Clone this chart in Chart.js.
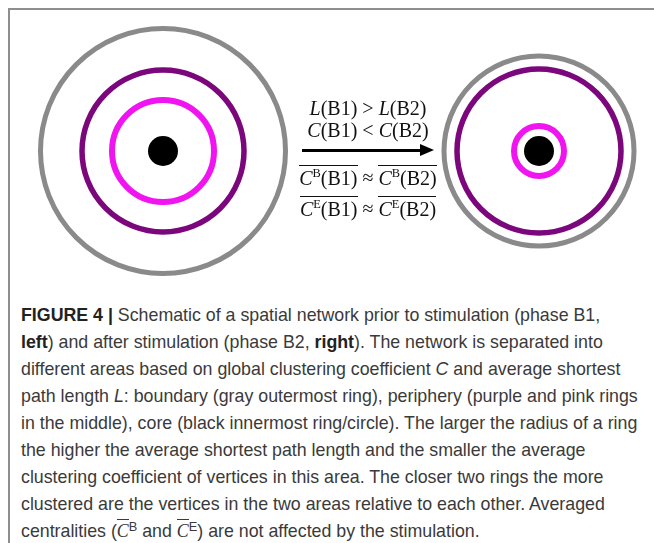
<!DOCTYPE html>
<html>
<head>
<meta charset="utf-8">
<script src="https://cdn.jsdelivr.net/npm/chart.js@4"></script>
<style>
  html, body { margin: 0; padding: 0; background: #fff; }
  body { width: 654px; height: 543px; position: relative; overflow: hidden; }
  #frameTop { position: absolute; left: 8px; top: 8px; width: 646px; height: 2px; background: #8e8e8e; }
  #frameLeft { position: absolute; left: 8px; top: 8px; width: 2px; height: 535px; background: #8e8e8e; }
  #chartWrap { position: absolute; left: 0; top: 0; width: 654px; height: 302px; }
  .eq { position: absolute; left: 268px; width: 200px; text-align: center;
        font-family: "Liberation Serif", "Times New Roman", serif; font-size: 20px; line-height: 20px; color: #111; white-space: nowrap; }
  .eq i { font-style: italic; }
  .eq sup { font-size: 0.62em; vertical-align: 0; position: relative; top: -0.55em; }
  .ov { border-top: 1.4px solid #111; padding-top: 0.5px; }
  #arrowLine { position: absolute; left: 302px; top: 149px; width: 122px; height: 3px; background: #000; }
  #arrowHead { position: absolute; left: 420px; top: 144px; width: 0; height: 0;
        border-top: 6.5px solid transparent; border-bottom: 6.5px solid transparent; border-left: 14px solid #000; }
  #caption { position: absolute; left: 21px; top: 302px; width: 640px;
        font-family: "Liberation Sans", Arial, sans-serif; font-size: 17.8px; line-height: 27px; color: #3a3a3a; white-space: nowrap; }
  #caption b { color: #222; }
  #caption .ci { font-family: "Liberation Serif", serif; font-style: italic; }
  #caption sup { font-size: 0.72em; vertical-align: 0; position: relative; top: -0.5em; }
  #caption .ov2 { border-top: 1.2px solid #3a3a3a; padding-top: 1px; }
</style>
</head>
<body>
<div id="frameTop"></div>
<div id="frameLeft"></div>
<div id="chartWrap"><canvas id="c" width="654" height="302"></canvas></div>

<div class="eq" style="top:98px"><i>L</i>(B1) &gt; <i>L</i>(B2)</div>
<div class="eq" style="top:120px"><i>C</i>(B1) &lt; <i>C</i>(B2)</div>
<div id="arrowLine"></div><div id="arrowHead"></div>
<div class="eq" style="top:167px"><span class="ov"><i>C</i><sup>B</sup>(B1)</span> ≈ <span class="ov"><i>C</i><sup>B</sup>(B2)</span></div>
<div class="eq" style="top:198px"><span class="ov"><i>C</i><sup>E</sup>(B1)</span> ≈ <span class="ov"><i>C</i><sup>E</sup>(B2)</span></div>

<div id="caption">
<div><b>FIGURE 4 |</b> Schematic of a spatial network prior to stimulation (phase B1,</div>
<div><b>left</b>) and after stimulation (phase B2, <b>right</b>). The network is separated into</div>
<div>different areas based on global clustering coefficient <i>C</i> and average shortest</div>
<div>path length <i>L</i>: boundary (gray outermost ring), periphery (purple and pink rings</div>
<div>in the middle), core (black innermost ring/circle). The larger the radius of a ring</div>
<div>the higher the average shortest path length and the smaller the average</div>
<div>clustering coefficient of vertices in this area. The closer two rings the more</div>
<div>clustered are the vertices in the two areas relative to each other. Averaged</div>
<div>centralities (<span class="ov2"><span class="ci">C</span></span><sup>B</sup> and <span class="ov2"><span class="ci">C</span></span><sup>E</sup>) are not affected by the stimulation.</div>
</div>

<script>
// Phases (B1 = before stimulation, left; B2 = after stimulation, right)
const phases = ['B1', 'B2'];
const phasePosition = [0, 1];
// Ring radii (as read from the schematic, px)
const boundaryRadius = [122.5, 95];      // gray outermost ring
const outerPeripheryRadius = [81, 82];   // purple ring
const innerPeripheryRadius = [51, 25];   // pink ring
const coreRadius = [15, 15];             // black core circle

const ringPoints = (radii) => phases.map((p, i) => ({ x: phasePosition[i], y: 0, r: radii[i] }));

new Chart(document.getElementById('c'), {
  type: 'bubble',
  data: {
    datasets: [
      { label: 'boundary', data: ringPoints(boundaryRadius), backgroundColor: 'rgba(0,0,0,0)', borderColor: 'rgb(138,138,138)', borderWidth: 5, clip: false },
      { label: 'periphery (outer)', data: ringPoints(outerPeripheryRadius), backgroundColor: 'rgba(0,0,0,0)', borderColor: 'rgb(124,6,124)', borderWidth: 5.5, clip: false },
      { label: 'periphery (inner)', data: ringPoints(innerPeripheryRadius), backgroundColor: 'rgba(0,0,0,0)', borderColor: 'rgb(240,20,240)', borderWidth: 6, clip: false },
      { label: 'core', data: ringPoints(coreRadius), backgroundColor: '#000', borderColor: '#000', borderWidth: 0, clip: false }
    ]
  },
  options: {
    responsive: false,
    maintainAspectRatio: false,
    devicePixelRatio: 1,
    animation: false,
    events: [],
    layout: { padding: 0, autoPadding: false },
    plugins: { legend: { display: false }, tooltip: { enabled: false } },
    scales: {
      x: { type: 'linear', display: false, min: -163 / 376, max: -163 / 376 + 654 / 376 },
      y: { type: 'linear', display: false, min: -1, max: 1 }
    }
  }
});
</script>
</body>
</html>
